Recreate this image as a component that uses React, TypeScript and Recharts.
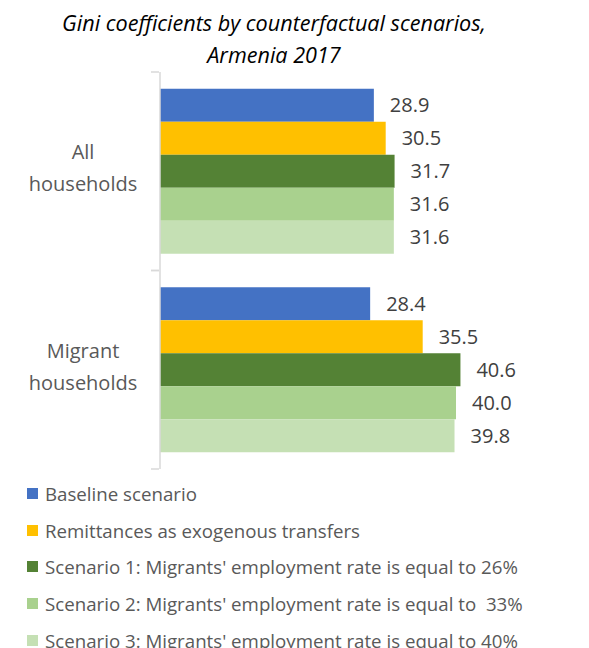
import React from "react";
import { BarChart, Bar, XAxis, YAxis, LabelList } from "recharts";

const groups = ["All households", "Migrant households"];
const baseline = [28.9, 28.4];
const remittances = [30.5, 35.5];
const scenario1 = [31.7, 40.6];
const scenario2 = [31.6, 40.0];
const scenario3 = [31.6, 39.8];

const seriesNames = [
  "Baseline scenario",
  "Remittances as exogenous transfers",
  "Scenario 1: Migrants' employment rate is equal to 26%",
  "Scenario 2: Migrants' employment rate is equal to  33%",
  "Scenario 3: Migrants' employment rate is equal to 40%",
];
const seriesColors = ["#4472C4", "#FFC000", "#548235", "#A9D18E", "#C5E0B4"];
const seriesKeys = ["baseline", "remittances", "s1", "s2", "s3"];

const data = groups.map((g, i) => ({
  group: g,
  baseline: baseline[i],
  remittances: remittances[i],
  s1: scenario1[i],
  s2: scenario2[i],
  s3: scenario3[i],
}));

const FONT = "'Open Sans', sans-serif";
const CHART_H = 480;
const MARGIN = { top: 72, right: 59, bottom: 11, left: 0 };
const halfBand = (CHART_H - MARGIN.top - MARGIN.bottom) / groups.length / 2;

const CategoryTick = (props: any) => {
  const { x, y, payload } = props;
  const words = String(payload.value).split(" ");
  return (
    <g>
      <line x1={x - 1} x2={x + 7} y1={y - halfBand} y2={y - halfBand} stroke="#D9D9D9" strokeWidth={1.5} />
      <line x1={x - 1} x2={x + 7} y1={y + halfBand} y2={y + halfBand} stroke="#D9D9D9" strokeWidth={1.5} />
      <text x={83} y={y - 12} textAnchor="middle" fill="#595959" fontSize={20} fontFamily={FONT}>
        <tspan x={83} dy={0}>{words[0]}</tspan>
        <tspan x={83} dy={32}>{words[1]}</tspan>
      </text>
    </g>
  );
};

export default function App() {
  return (
    <div style={{ position: "fixed", left: 0, top: 0, width: 589, height: 648, background: "#fff", overflow: "hidden", fontFamily: FONT }}>
      <div style={{ position: "absolute", left: 0, top: 7, width: 548, textAlign: "center", fontStyle: "italic", fontSize: 21.6, lineHeight: "32px", color: "#000" }}>
        Gini coefficients by counterfactual scenarios,
        <br />
        Armenia 2017
      </div>
      <div style={{ position: "absolute", left: 0, top: 0 }}>
        <BarChart width={589} height={CHART_H} data={data} layout="vertical" margin={MARGIN} barCategoryGap="8.4%" barGap={0}>
          <XAxis type="number" domain={[0, 50]} hide />
          <YAxis
            type="category"
            dataKey="group"
            width={160}
            axisLine={{ stroke: "#D9D9D9", strokeWidth: 1.5 }}
            tickLine={false}
            tick={<CategoryTick />}
          />
          {seriesKeys.map((k, i) => (
            <Bar key={k} dataKey={k} name={seriesNames[i]} fill={seriesColors[i]} isAnimationActive={false}>
              <LabelList dataKey={k} position="right" offset={16} fill="#404040" fontSize={20} fontFamily={FONT} formatter={(v: any) => Number(v).toFixed(1)} />
            </Bar>
          ))}
        </BarChart>
      </div>
      <div style={{ position: "absolute", left: 27, top: 475 }}>
        {seriesNames.map((n, i) => (
          <div key={n} style={{ display: "flex", alignItems: "center", height: 36.8, fontSize: 18.7, color: "#595959", whiteSpace: "pre" }}>
            <span style={{ width: 11, height: 11, background: seriesColors[i], marginRight: 7, display: "inline-block" }} />
            {n}
          </div>
        ))}
      </div>
    </div>
  );
}
